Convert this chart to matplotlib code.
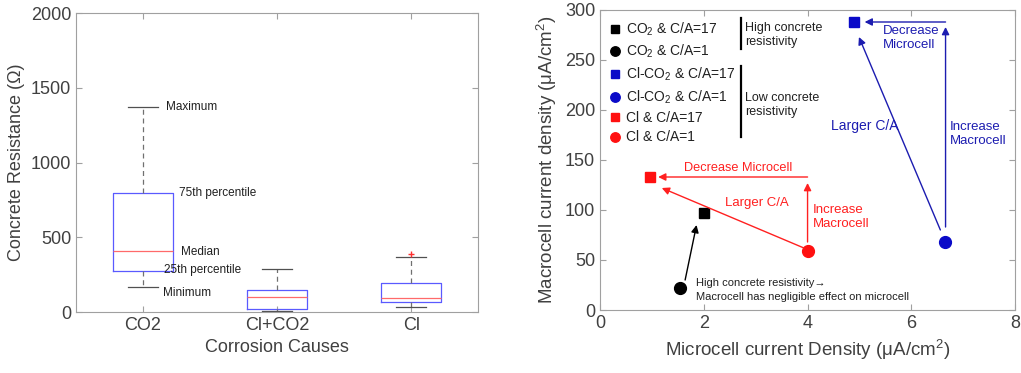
import numpy as np
import matplotlib
matplotlib.use("Agg")
import matplotlib.pyplot as plt

plt.rcParams['font.family'] = ['Liberation Sans', 'DejaVu Sans']
plt.rcParams['mathtext.fontset'] = 'custom'
plt.rcParams['mathtext.rm'] = 'Liberation Sans'
plt.rcParams['mathtext.it'] = 'Liberation Sans'
plt.rcParams['mathtext.default'] = 'regular'

# ---- left panel: concrete resistance box stats ----
causes = ['CO2', 'Cl+CO2', 'Cl']
q1 = [276, 18, 69]
medians = [408, 100, 96]
q3 = [794, 147, 192]
whislo = [165, 5, 33]
whishi = [1373, 285, 366]
fliers = [[], [], [386]]

# ---- right panel: microcell vs macrocell current density ----
series_labels = ['CO$_2$ & C/A=17', 'CO$_2$ & C/A=1',
                 'Cl-CO$_2$ & C/A=17', 'Cl-CO$_2$ & C/A=1',
                 'Cl & C/A=17', 'Cl & C/A=1']
micro = [2.0, 1.55, 4.9, 6.65, 0.96, 4.0]
macro = [97, 22, 288, 68, 133, 59]
series_colors = ['black', 'black', '#0a0ac8', '#0a0ac8', '#ff1010', '#ff1010']
series_markers = ['s', 'o', 's', 'o', 's', 'o']

grey = '#404040'
spine = '#a0a0a0'

fig = plt.figure(figsize=(10.21, 3.73), dpi=100)
ax1 = fig.add_axes([0.0744, 0.1635, 0.394, 0.8016])
ax2 = fig.add_axes([0.5877, 0.1689, 0.4065, 0.8043])

for ax in (ax1, ax2):
    for s in ax.spines.values():
        s.set_color(spine)
        s.set_linewidth(0.8)
    ax.tick_params(direction='in', top=True, right=True, length=4,
                   color=spine, labelcolor=grey, labelsize=13)

# box plot
stats = []
for i in range(len(causes)):
    stats.append(dict(label=causes[i], q1=q1[i], med=medians[i], q3=q3[i],
                      whislo=whislo[i], whishi=whishi[i], fliers=fliers[i]))
ax1.bxp(stats, positions=[1, 2, 3], widths=0.45,
        boxprops=dict(color='#5a5aff', linewidth=0.9),
        medianprops=dict(color='#ff6a6a', linewidth=0.9),
        whiskerprops=dict(color='#707070', linewidth=0.9, linestyle=(0, (4, 3))),
        capprops=dict(color='#505050', linewidth=0.9),
        capwidths=0.22,
        flierprops=dict(marker='+', markeredgecolor='#ff3030', markersize=4))
ax1.set_xlim(0.5, 3.5)
ax1.set_ylim(0, 2000)
ax1.set_yticks([0, 500, 1000, 1500, 2000])
ax1.set_ylabel('Concrete Resistance (Ω)', fontsize=13, color=grey)
ax1.set_xlabel('Corrosion Causes', fontsize=13, color=grey)

note_kw = dict(fontsize=8.5, color='#202020', va='center', ha='left')
ax1.text(1.17, 1373, 'Maximum', **note_kw)
ax1.text(1.27, 794, '75th percentile', **note_kw)
ax1.text(1.28, 400, 'Median', **note_kw)
ax1.text(1.16, 280, '25th percentile', **note_kw)
ax1.text(1.15, 128, 'Minimum', **note_kw)

# scatter
for i in range(len(series_labels)):
    ms = 7 if series_markers[i] == 's' else 8.5
    ax2.plot(micro[i], macro[i], linestyle='none', marker=series_markers[i],
             color=series_colors[i], markersize=ms, label=series_labels[i])

ax2.set_xlim(0, 8)
ax2.set_ylim(0, 300)
ax2.set_xticks([0, 2, 4, 6, 8])
ax2.set_yticks([0, 50, 100, 150, 200, 250, 300])
ax2.set_xlabel('Microcell current Density (μA/cm$^2$)', fontsize=13.5, color=grey)
ax2.set_ylabel('Macrocell current density (μA/cm$^2$)', fontsize=13.5, color=grey)

leg = ax2.legend(loc='upper left', bbox_to_anchor=(0.0, 1.0), frameon=False,
                 fontsize=10, handlelength=0.6, handletextpad=0.5,
                 labelspacing=0.38, borderaxespad=0.35, markerscale=0.8)
for t in leg.get_texts():
    t.set_color('#202020')

# group bars
ax2.plot([2.71, 2.71], [261, 292], color='black', lw=1.6)
ax2.plot([2.71, 2.71], [173, 244], color='black', lw=1.6)
ax2.text(2.79, 275, 'High concrete\nresistivity', fontsize=9, va='center',
         color='#202020', linespacing=1.3)
ax2.text(2.79, 205, 'Low concrete\nresistivity', fontsize=9, va='center',
         color='#202020', linespacing=1.3)


def arrow(x0, y0, x1, y1, c):
    ax2.annotate('', xy=(x1, y1), xytext=(x0, y0),
                 arrowprops=dict(arrowstyle='-|>', color=c, lw=1.0,
                                 mutation_scale=11, shrinkA=0, shrinkB=0))


red = '#ff2020'
blue = '#1c1cb0'
arrow(4.0, 133, 1.12, 133, red)
arrow(4.0, 68, 4.0, 127, red)
arrow(3.93, 62, 1.19, 122, red)
ax2.text(2.66, 142, 'Decrease Microcell', color=red, fontsize=9.2, ha='center', va='center')
ax2.text(3.02, 107, 'Larger C/A', color=red, fontsize=9.5, ha='center', va='center')
ax2.text(4.1, 93, 'Increase\nMacrocell', color=red, fontsize=9.5, ha='left', va='center',
         linespacing=1.3)

arrow(6.66, 288, 5.1, 288, blue)
arrow(6.66, 83, 6.66, 283, blue)
arrow(6.56, 80, 4.99, 273, blue)
ax2.text(5.45, 272, 'Decrease\nMicrocell', color=blue, fontsize=9.5, ha='left', va='center',
         linespacing=1.3)
ax2.text(5.1, 184, 'Larger C/A', color=blue, fontsize=10, ha='center', va='center')
ax2.text(6.74, 176, 'Increase\nMacrocell', color=blue, fontsize=9.5, ha='left', va='center',
         linespacing=1.3)

arrow(1.64, 30, 1.86, 85, 'black')
ax2.text(1.84, 20, 'High concrete resistivity→\nMacrocell has negligible effect on microcell',
         fontsize=8, color='#202020', ha='left', va='center', linespacing=1.4)

fig.savefig('out.png', dpi=100)
